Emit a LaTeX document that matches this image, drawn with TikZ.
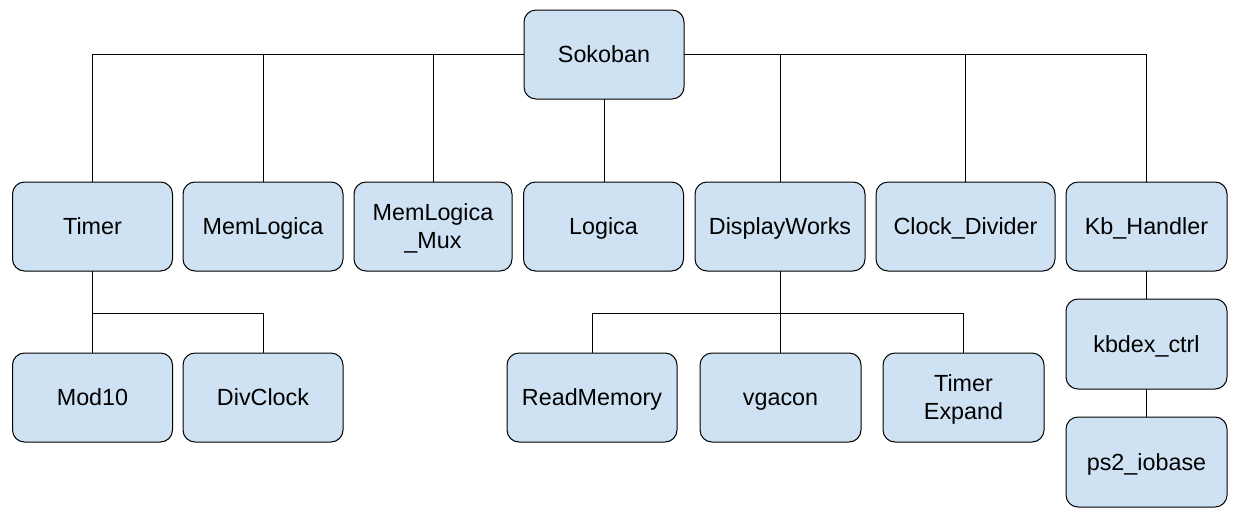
\documentclass[tikz,border=0pt]{standalone}
\usepackage{fontspec}
\setmainfont{Liberation Sans}
\definecolor{boxfill}{HTML}{CFE2F3}
\begin{document}
\begin{tikzpicture}[x=0.75pt,y=-0.75pt,
  box/.style={draw=black, fill=boxfill, line width=0.75pt, rounded corners=9pt,
    minimum height=66.75pt, minimum width=120pt, inner sep=0pt, outer sep=0pt,
    align=center, font=\fontsize{17.5}{21}\selectfont, text height=12.6pt, text depth=0pt},
  twoline/.style={text height=33.6pt},
  link/.style={draw=black, line width=0.75pt}]
\useasboundingbox (0,0) rectangle (1239,515);
% root
\node[box] (sok) at (604,54.5) {Sokoban};
% row 1
\node[box] (timer) at (92.5,226.5) {Timer};
\node[box] (meml) at (263,226.5) {MemLogica};
\node[box, twoline, minimum width=118.5pt] (memmux) at (433,226.5) {MemLogica\\\_Mux};
\node[box] (logica) at (603.5,226.5) {Logica};
\node[box, minimum width=127.5pt] (disp) at (780,226.5) {DisplayWorks};
\node[box, minimum width=134.25pt] (clk) at (965.5,226.5) {Clock\_Divider};
\node[box, minimum width=120.75pt] (kb) at (1146.5,226.5) {Kb\_Handler};
% row 2
\node[box] (mod) at (92.5,397.5) {Mod10};
\node[box] (divc) at (263,397.5) {DivClock};
\node[box, minimum width=127.5pt] (readm) at (592,397.5) {ReadMemory};
\node[box, minimum width=120.75pt] (vga) at (780.5,397.5) {vgacon};
\node[box, twoline, minimum width=120.75pt] (texp) at (963.5,397.5) {Timer\\Expand};
\node[box, minimum width=120.75pt, minimum height=67.5pt] (kbd) at (1146.5,344) {kbdex\_ctrl};
\node[box, minimum width=120.75pt, minimum height=67.5pt] (ps2) at (1146.5,462) {ps2\_iobase};
% connectors from root
\draw[link] (sok.west) -| (timer.north);
\draw[link] (sok.west) -| (meml.north);
\draw[link] (sok.west) -| (memmux.north);
\draw[link] (sok.south) -- (sok.south |- logica.north);
\draw[link] (sok.east) -| (disp.north);
\draw[link] (sok.east) -| (clk.north);
\draw[link] (sok.east) -| (kb.north);
% Timer children
\coordinate (tbus) at (92.5,313);
\draw[link] (timer.south) -- (mod.north);
\draw[link] (tbus) -| (divc.north);
% DisplayWorks children
\coordinate (dbus) at (780,313);
\draw[link] (disp.south) -- (dbus);
\draw[link] (dbus) -| (readm.north);
\draw[link] (dbus) -| (texp.north);
\draw[link] (dbus) -- (vga.north -| dbus);
% Kb chain
\draw[link] (kb.south) -- (kbd.north);
\draw[link] (kbd.south) -- (ps2.north);
\end{tikzpicture}
\end{document}
